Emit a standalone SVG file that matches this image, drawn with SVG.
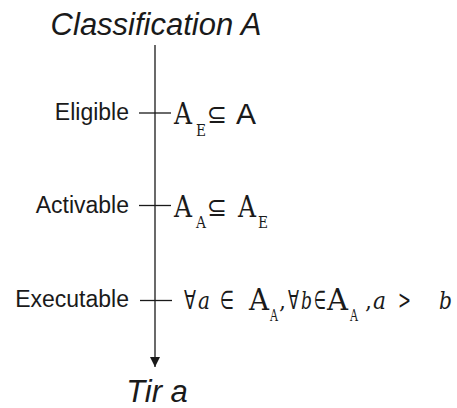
<svg xmlns="http://www.w3.org/2000/svg" width="457" height="408" viewBox="0 0 457 408">
<style>
.lbl{font-family:"Liberation Sans",Arial,sans-serif;font-size:23px;fill:#1a1a1a;text-anchor:end}
.ttl{font-family:"Liberation Sans",Arial,sans-serif;font-size:31px;font-style:italic;fill:#1a1a1a;text-anchor:middle}
.ser{font-family:"DejaVu Serif",serif;font-size:30px;fill:#1a1a1a}
.sub{font-family:"DejaVu Serif",serif;font-size:16px;fill:#1a1a1a}
.sym{font-family:"DejaVu Sans",sans-serif;font-size:26px;fill:#1a1a1a}
.var{font-family:"DejaVu Serif",serif;font-size:25px;font-style:italic;fill:#1a1a1a}
.sans{font-family:"Liberation Sans",Arial,sans-serif;font-size:30px;fill:#1a1a1a}
.ln{stroke:#1a1a1a;stroke-width:1.3;fill:none}
</style>
<defs>
<marker id="ah" markerUnits="userSpaceOnUse" markerWidth="12" markerHeight="12" viewBox="0 0 12 12" refX="10" refY="6" orient="auto">
<path d="M0,1 L10,6 L0,11 Z" fill="#1a1a1a"/>
</marker>
</defs>
<g id="title"><text class="ttl" x="156" y="35">Classification A</text></g>
<g id="connectors">
<line class="ln" x1="155" y1="45" x2="155" y2="367" marker-end="url(#ah)"/>
<line class="ln" x1="139" y1="113" x2="171" y2="113"/>
<line class="ln" x1="139" y1="205.5" x2="171" y2="205.5"/>
<line class="ln" x1="140" y1="300.5" x2="172" y2="300.5"/>
</g>
<g id="eligible">
<text class="lbl" x="129" y="120">Eligible</text>
<text class="ser" x="174" y="124" textLength="18" lengthAdjust="spacingAndGlyphs">A</text>
<text class="sub" x="196" y="136" textLength="10" lengthAdjust="spacingAndGlyphs">E</text>
<text class="sym" x="207" y="123" textLength="20" lengthAdjust="spacingAndGlyphs">⊆</text>
<text class="sans" x="236" y="124">A</text>
</g>
<g id="activable">
<text class="lbl" x="129" y="213">Activable</text>
<text class="ser" x="174" y="217" textLength="18" lengthAdjust="spacingAndGlyphs">A</text>
<text class="sub" x="196" y="228" textLength="10" lengthAdjust="spacingAndGlyphs">A</text>
<text class="sym" x="207" y="216" textLength="20" lengthAdjust="spacingAndGlyphs">⊆</text>
<text class="ser" x="238" y="217" textLength="18" lengthAdjust="spacingAndGlyphs">A</text>
<text class="sub" x="258" y="228" textLength="10" lengthAdjust="spacingAndGlyphs">E</text>
</g>
<g id="executable">
<text class="lbl" x="129" y="307">Executable</text>
<text class="sym" x="184" y="309" textLength="12" lengthAdjust="spacingAndGlyphs">∀</text>
<text class="var" x="198" y="309" textLength="12" lengthAdjust="spacingAndGlyphs">a</text>
<text class="sym" x="220" y="309" textLength="14" lengthAdjust="spacingAndGlyphs">∈</text>
<text class="ser" x="249" y="310" textLength="20" lengthAdjust="spacingAndGlyphs">A</text>
<text class="sub" x="270" y="321" textLength="8" lengthAdjust="spacingAndGlyphs">A</text>
<text class="ser" x="279" y="309" style="font-size:22px">,</text>
<text class="sym" x="288" y="309" textLength="11" lengthAdjust="spacingAndGlyphs">∀</text>
<text class="var" x="301" y="309" textLength="11" lengthAdjust="spacingAndGlyphs">b</text>
<text class="sym" x="314" y="309" textLength="12" lengthAdjust="spacingAndGlyphs">∈</text>
<text class="ser" x="327" y="310" textLength="21" lengthAdjust="spacingAndGlyphs">A</text>
<text class="sub" x="350" y="321" textLength="8" lengthAdjust="spacingAndGlyphs">A</text>
<text class="ser" x="365" y="309" style="font-size:22px">,</text>
<text class="var" x="373" y="309" textLength="13" lengthAdjust="spacingAndGlyphs">a</text>
<text class="sym" x="398" y="309" textLength="13" lengthAdjust="spacingAndGlyphs">&gt;</text>
<text class="var" x="439" y="309" textLength="13" lengthAdjust="spacingAndGlyphs">b</text>
</g>
<g id="tir"><text class="ttl" x="157" y="402">Tir a</text></g>
</svg>
